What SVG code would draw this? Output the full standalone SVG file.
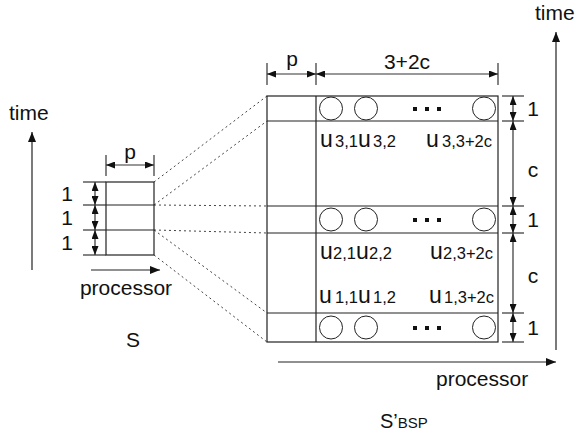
<svg xmlns="http://www.w3.org/2000/svg" width="578" height="437" viewBox="0 0 578 437">
<defs>
<marker id="ah" markerWidth="10" markerHeight="8" refX="10" refY="4" orient="auto-start-reverse" markerUnits="userSpaceOnUse"><path d="M0,0 L10,4 L0,8 z" fill="#111"/></marker>
<marker id="sh" markerWidth="9" markerHeight="7" refX="9" refY="3.5" orient="auto-start-reverse" markerUnits="userSpaceOnUse"><path d="M0,0 L9,3.5 L0,7 z" fill="#111"/></marker>
</defs>
<style>
text{font-family:"Liberation Sans",Arial,sans-serif;fill:#111}
.lbl{font-size:21px}
.u{font-size:23px}
.sub{font-size:16.5px}
.box{fill:none;stroke:#222;stroke-width:1.2}
.tick{stroke:#333;stroke-width:1.2}
.arr{stroke:#222;stroke-width:1.2;fill:none;marker-end:url(#ah)}
.dbl{stroke:#333;stroke-width:1.2;fill:none;marker-start:url(#sh);marker-end:url(#sh)}
.dot{stroke:#444;stroke-width:1;stroke-dasharray:2 3;fill:none}
.c{fill:#fff;stroke:#222;stroke-width:1}
.sq{fill:#111}
</style>

<g id="connectors">
<line class="dot" x1="154" y1="182" x2="267" y2="96"/>
<line class="dot" x1="154" y1="205" x2="267" y2="121"/>
<line class="dot" x1="154" y1="205" x2="267" y2="206"/>
<line class="dot" x1="154" y1="230" x2="267" y2="233"/>
<line class="dot" x1="154" y1="230" x2="267" y2="313"/>
<line class="dot" x1="154" y1="255" x2="267" y2="342"/>
</g>

<g id="S">
<text class="lbl" x="9" y="120">time</text>
<line class="arr" x1="32" y1="270" x2="32" y2="132"/>
<rect class="box" x="106" y="182" width="48" height="73"/>
<line class="box" x1="106" y1="205" x2="154" y2="205"/>
<line class="box" x1="106" y1="230" x2="154" y2="230"/>
<line class="tick" x1="83" y1="182" x2="106" y2="182"/>
<line class="tick" x1="83" y1="205" x2="106" y2="205"/>
<line class="tick" x1="83" y1="230" x2="106" y2="230"/>
<line class="tick" x1="83" y1="255" x2="106" y2="255"/>
<line class="dbl" x1="95" y1="182" x2="95" y2="205"/>
<line class="dbl" x1="95" y1="205" x2="95" y2="230"/>
<line class="dbl" x1="95" y1="230" x2="95" y2="255"/>
<text class="lbl" x="67" y="201" text-anchor="middle">1</text>
<text class="lbl" x="67" y="225" text-anchor="middle">1</text>
<text class="lbl" x="67" y="250" text-anchor="middle">1</text>
<line class="tick" x1="106" y1="155" x2="106" y2="176"/>
<line class="tick" x1="154" y1="155" x2="154" y2="176"/>
<line class="dbl" x1="106" y1="165" x2="154" y2="165"/>
<text class="lbl" x="130" y="159" text-anchor="middle">p</text>
<line class="arr" x1="91" y1="270" x2="160" y2="270"/>
<text class="lbl" x="126" y="295" text-anchor="middle">processor</text>
<text class="lbl" x="133" y="347" text-anchor="middle">S</text>
</g>

<g id="SBSP">
<rect class="box" x="267" y="96" width="231" height="246"/>
<line class="box" x1="316" y1="96" x2="316" y2="342"/>
<line class="box" x1="267" y1="121" x2="498" y2="121"/>
<line class="box" x1="267" y1="206" x2="498" y2="206"/>
<line class="box" x1="267" y1="233" x2="498" y2="233"/>
<line class="box" x1="267" y1="313" x2="498" y2="313"/>
</g>

<g id="band3">
<circle class="c" cx="331" cy="108.5" r="11.5"/>
<circle class="c" cx="366" cy="108.5" r="11.5"/>
<circle class="c" cx="484" cy="108.5" r="11.5"/>
<rect class="sq" x="413" y="107" width="4" height="4"/>
<rect class="sq" x="425" y="107" width="4" height="4"/>
<rect class="sq" x="437" y="107" width="4" height="4"/>
<text class="u" x="320" y="147">u</text><text class="sub" x="335" y="147">3,1</text>
<text class="u" x="358" y="147">u</text><text class="sub" x="373" y="147">3,2</text>
<text class="u" x="426" y="147">u</text><text class="sub" x="442" y="147">3,3+2c</text>
</g>

<g id="band2">
<circle class="c" cx="331" cy="219.5" r="11.5"/>
<circle class="c" cx="366" cy="219.5" r="11.5"/>
<circle class="c" cx="484" cy="219.5" r="11.5"/>
<rect class="sq" x="413" y="218" width="4" height="4"/>
<rect class="sq" x="425" y="218" width="4" height="4"/>
<rect class="sq" x="437" y="218" width="4" height="4"/>
<text class="u" x="320" y="259">u</text><text class="sub" x="333" y="259">2,1</text>
<text class="u" x="356" y="259">u</text><text class="sub" x="369" y="259">2,2</text>
<text class="u" x="430" y="259">u</text><text class="sub" x="443" y="259">2,3+2c</text>
</g>

<g id="band1">
<circle class="c" cx="331" cy="327.5" r="11.5"/>
<circle class="c" cx="366" cy="327.5" r="11.5"/>
<circle class="c" cx="484" cy="327.5" r="11.5"/>
<rect class="sq" x="413" y="326" width="4" height="4"/>
<rect class="sq" x="425" y="326" width="4" height="4"/>
<rect class="sq" x="437" y="326" width="4" height="4"/>
<text class="u" x="319" y="303">u</text><text class="sub" x="335" y="303">1,1</text>
<text class="u" x="358" y="303">u</text><text class="sub" x="373" y="303">1,2</text>
<text class="u" x="429" y="303">u</text><text class="sub" x="444" y="303">1,3+2c</text>
</g>

<g id="dims">
<line class="tick" x1="267" y1="63" x2="267" y2="85"/>
<line class="tick" x1="316" y1="63" x2="316" y2="85"/>
<line class="tick" x1="498" y1="63" x2="498" y2="85"/>
<line class="dbl" x1="267" y1="74" x2="316" y2="74"/>
<line class="dbl" x1="316" y1="74" x2="498" y2="74"/>
<text class="lbl" x="292" y="66" text-anchor="middle">p</text>
<text class="lbl" x="407" y="69" text-anchor="middle">3+2c</text>
<line class="tick" x1="502" y1="96" x2="524" y2="96"/>
<line class="tick" x1="502" y1="121" x2="524" y2="121"/>
<line class="tick" x1="502" y1="206" x2="524" y2="206"/>
<line class="tick" x1="502" y1="233" x2="524" y2="233"/>
<line class="tick" x1="502" y1="313" x2="524" y2="313"/>
<line class="tick" x1="502" y1="342" x2="524" y2="342"/>
<line class="dbl" x1="513" y1="96" x2="513" y2="121"/>
<line class="dbl" x1="513" y1="121" x2="513" y2="206"/>
<line class="dbl" x1="513" y1="206" x2="513" y2="233"/>
<line class="dbl" x1="513" y1="233" x2="513" y2="313"/>
<line class="dbl" x1="513" y1="313" x2="513" y2="342"/>
<text class="lbl" x="533" y="116" text-anchor="middle">1</text>
<text class="lbl" x="533" y="177" text-anchor="middle">c</text>
<text class="lbl" x="533" y="227" text-anchor="middle">1</text>
<text class="lbl" x="533" y="283" text-anchor="middle">c</text>
<text class="lbl" x="533" y="335" text-anchor="middle">1</text>
</g>

<g id="axes">
<line class="arr" x1="556" y1="350" x2="556" y2="32"/>
<text class="lbl" x="535" y="20">time</text>
<line class="arr" x1="278" y1="362" x2="556" y2="362"/>
<text class="lbl" x="436" y="386">processor</text>
<text x="380" y="428" font-size="20">S’<tspan font-size="15">BSP</tspan></text>
</g>
</svg>
